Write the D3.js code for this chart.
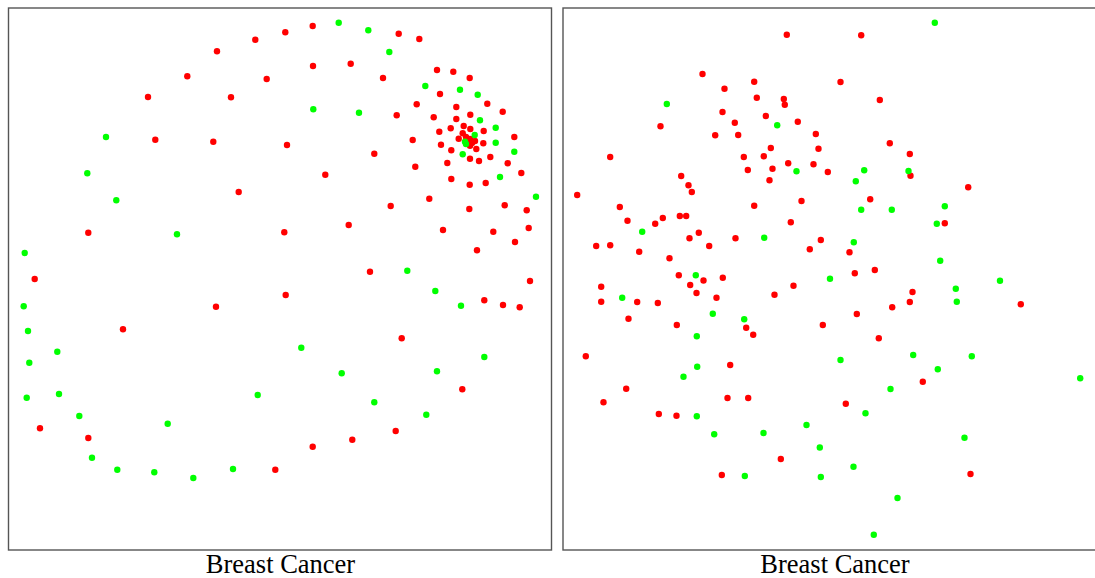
<!DOCTYPE html>
<html><head><meta charset="utf-8">
<script src="https://cdn.jsdelivr.net/npm/d3@7"></script>
<style>body{margin:0;background:#fff}svg{display:block}</style>
</head><body>
<script>
// Embedding coordinates (x right, y up), panel extent 0..543 x 0..542
const panelTitles = ["Breast Cancer", "Breast Cancer"];
const leftRed = [[247.3,510.3],[209,498.7],[179.3,473.7],[258.7,471],[140,453],[223,452.7],[147.3,410.3],[205.3,408.3],[230.7,358],[80.3,317.3],[26.7,271],[277.3,517.7],[304.7,524],[390.7,516.3],[411.3,511],[305,484],[342.7,486.3],[375,472],[429,480],[445.3,478.3],[461.7,472],[432,456],[408.7,445.7],[448.3,443],[479.3,446.3],[494.7,438.3],[388.7,434.7],[425.7,432.7],[448.3,431],[462.3,435.3],[455.7,424],[442.7,421.7],[462.3,421],[475.7,419],[431.3,418.3],[454.7,416.7],[450.7,411.3],[458,413],[462,411],[460,408],[464,407],[467,409],[506.3,413],[404.7,410],[433,405.3],[462,404.3],[475.3,406.7],[468.3,401],[443.3,399.7],[279,405],[366.3,396.3],[482.3,393],[462,391.3],[471,389],[439.3,387],[407.3,383.3],[499.7,386.7],[317.3,375.3],[513.3,377],[443.3,371],[461.7,365.3],[477.7,367],[421.3,351.3],[382.7,344],[461.3,341],[496.7,344.7],[518.7,339.7],[340.7,325],[276.3,317.7],[435,320],[485.3,318.3],[520.7,322],[507,308],[469,299.7],[362,278.3],[522,269],[208,243.3],[115,220.7],[32,121.7],[80.3,112],[267.3,80.3],[277.7,255],[476.3,249.7],[495,245],[511.7,242.7],[393.7,211.7],[454.3,160.7],[387.7,119],[344.3,110.3],[304.7,103.3]];
const leftGreen = [[98,413],[79.3,376.7],[108.3,349.7],[169,315.7],[16.7,297],[330.7,527.3],[360.3,519.7],[381.3,498],[417.3,464],[452,460.3],[469.7,455.3],[305.3,440.7],[351,437.3],[472,429.7],[487.7,422.3],[466.7,415],[457,408.3],[458,406],[487.7,407.3],[506.3,398.3],[454.7,395.7],[492,373],[528,353.3],[399.3,279.3],[15.7,243.7],[20,219],[49.3,198.3],[21.3,187.3],[18.7,152.3],[51,156],[249.7,155],[71.3,134],[159.7,126.3],[84,92.3],[109.3,80.3],[146.3,77.7],[185.3,72],[225,81],[427.3,259],[453,244.3],[293.3,202.3],[333.7,176.7],[429,178.7],[476.3,193],[366.3,147.7],[418.3,135.3]];
const rightRed = [[224.3,515.3],[140,476],[191.7,468.3],[162,461.3],[194.3,452.3],[221.3,451],[222.3,445.3],[160,438],[172.3,427.3],[203.3,434],[235.3,428.3],[98,423.7],[152.7,414.7],[175.7,415],[253.3,416],[208.3,402],[256,401.3],[47.7,393],[181.3,393],[201.3,393.7],[185.3,380],[210,381.3],[225.7,386.7],[251,385.7],[265.3,378],[207,369.7],[118.7,374],[126,364.7],[129.3,358],[14.7,355],[239,349],[57.3,343],[191.7,344.3],[65,329.3],[228.3,327.7],[92.7,326.3],[100.3,332],[117.3,334],[123.7,334],[136.3,317.3],[127,311.7],[173,311.7],[258.3,310],[247.3,300.7],[33.7,304],[47.7,304.7],[76.7,298.3],[146.7,304],[107,291.7],[116.3,274.7],[141,269.5],[160.3,272.3],[298.7,514.7],[278,468],[317.3,450],[327.3,406.7],[347.3,396],[348,374.3],[405.7,362.7],[307.7,350.7],[382.3,326.7],[287,297.7],[292.3,276.7],[312.3,280],[38.7,263.3],[38.7,248.3],[74.7,248],[95.3,247],[127.7,265],[134,257],[154,252.3],[212,255.3],[231,264.3],[66,231.3],[114.3,225],[183.7,222.3],[190.7,215.3],[260.3,225],[23.3,193.7],[167.7,185],[63.7,161.3],[41,147.7],[165,152],[185.7,152],[96.3,136],[114,134.3],[218.3,91],[159.3,75],[350,258],[347.3,248],[329.7,242.7],[294.3,236],[458.3,245.7],[316.3,211.7],[360.3,168.3],[283.3,146.3],[408,76]];
const rightGreen = [[104.3,446],[214.7,424.7],[234,378.7],[79.7,318.3],[201.7,312.3],[133.3,274.7],[267.5,271.3],[372.3,527.3],[301.7,379.7],[293.3,368.7],[346,379],[298.7,340.3],[329.3,340.3],[382.3,343.7],[374.3,326.3],[291.3,307.7],[377.7,289.3],[437.5,269.3],[59.7,252.3],[150.3,236.3],[181.7,230.7],[134.3,213.7],[134.7,183.3],[121,173.3],[134.3,133.7],[244,125],[151.7,115.7],[201,117],[257.3,102.5],[182.3,74],[258.3,73],[393.3,261.3],[394.3,248.3],[350.7,195],[409.3,193.7],[278,190],[375.3,180.7],[517.7,171.7],[328,161],[303,136.7],[402,112.3],[291,83.3],[335,52],[311.3,15.3]];
const panels = [
  {left: 8.5, red: leftRed, green: leftGreen, title: panelTitles[0]},
  {left: 563, red: rightRed, green: rightGreen, title: panelTitles[1]}
];
const W = 1095, H = 578, pw = 543, frameTop = 8, frameBottom = 550;
const svg = d3.select("body").append("svg").attr("width", W).attr("height", H);
panels.forEach(p => {
  const x = d3.scaleLinear().domain([0, 543]).range([p.left - 0.5, p.left - 0.5 + pw]);
  const y = d3.scaleLinear().domain([0, 542]).range([frameBottom, frameTop]);
  const g = svg.append("g");
  g.append("rect").attr("x", p.left).attr("y", frameTop).attr("width", pw).attr("height", frameBottom - frameTop)
    .attr("fill", "none").attr("stroke", "#555").attr("stroke-width", 1.4);
  g.selectAll("circle.r").data(p.red).join("circle").attr("class","r")
    .attr("cx", d => x(d[0])).attr("cy", d => y(d[1])).attr("r", 3.2).attr("fill", "#ff0000");
  g.selectAll("circle.g").data(p.green).join("circle").attr("class","g")
    .attr("cx", d => x(d[0])).attr("cy", d => y(d[1])).attr("r", 3.2).attr("fill", "#00ff00");
  g.append("text").attr("x", x(271.5) + 1).attr("y", 573).attr("text-anchor", "middle")
    .attr("font-family", "Liberation Serif, Times New Roman, serif").attr("font-size", 26.5)
    .attr("fill", "#000").text(p.title);
});
</script>
</body></html>
